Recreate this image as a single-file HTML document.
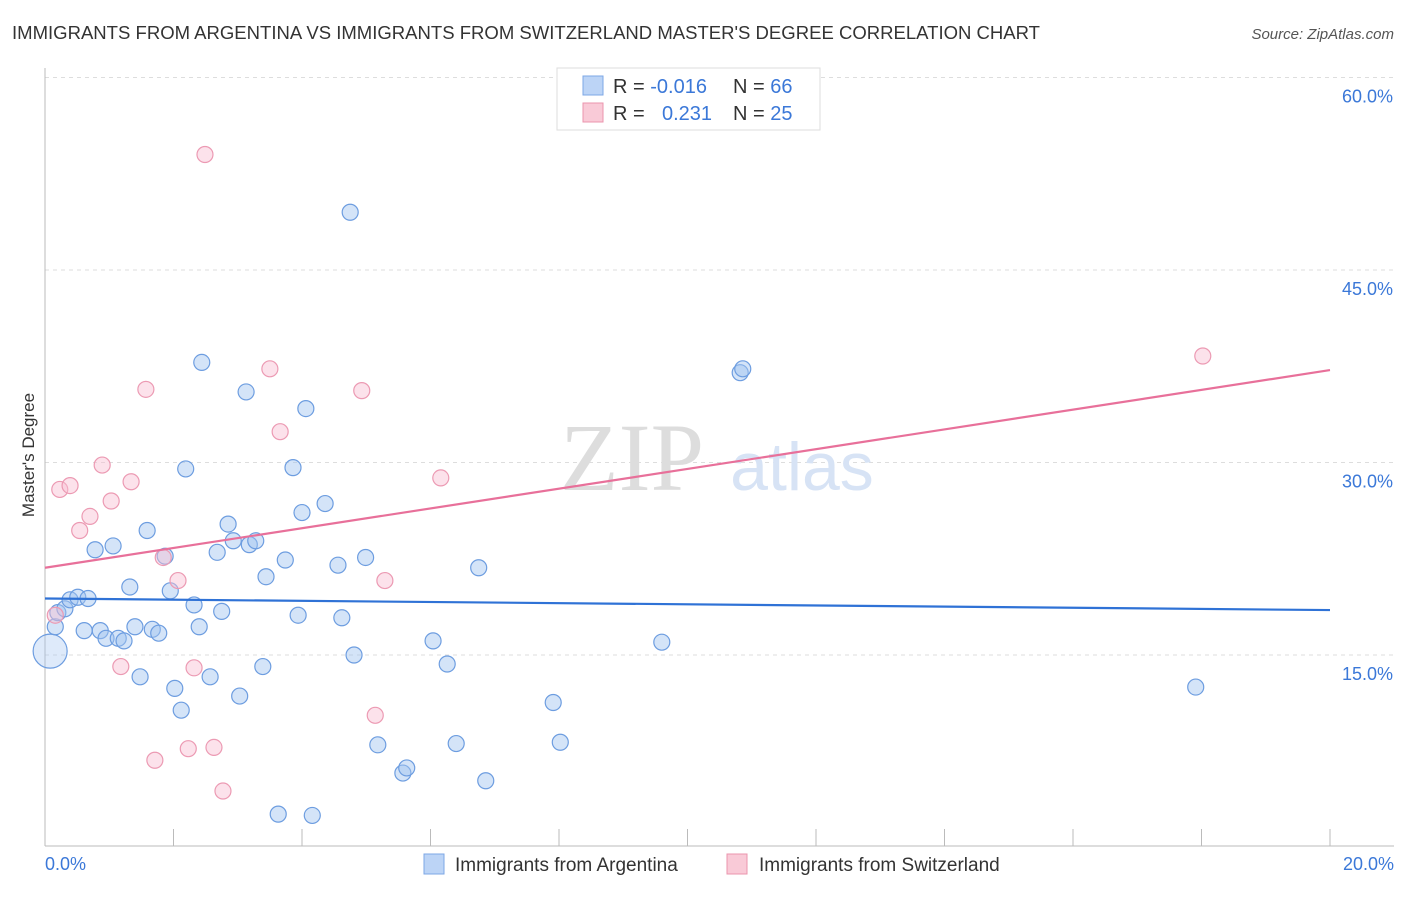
<!DOCTYPE html>
<html><head><meta charset="utf-8"><style>
body{margin:0;background:#fff;font-family:"Liberation Sans",sans-serif;}
svg text{font-family:"Liberation Sans",sans-serif;}
</style></head><body>
<svg id="chart" width="1406" height="892" xmlns="http://www.w3.org/2000/svg">
<text x="12" y="39" font-size="18" fill="#333" textLength="1028" lengthAdjust="spacingAndGlyphs">IMMIGRANTS FROM ARGENTINA VS IMMIGRANTS FROM SWITZERLAND MASTER'S DEGREE CORRELATION CHART</text>
<text x="1394" y="39" font-size="15" fill="#555" font-style="italic" text-anchor="end">Source: ZipAtlas.com</text>
<g id="grid"></g>
<text x="632" y="490" font-size="96" fill="#ddd" text-anchor="middle" style="font-family:'Liberation Serif',serif">ZIP</text>
<text x="802" y="490" font-size="68" fill="#d7e3f5" text-anchor="middle">atlas</text>
<g id="points"></g>
<g id="trends"></g>
<text x="34" y="455" font-size="17" fill="#333" transform="rotate(-90 34 455)" text-anchor="middle">Master's Degree</text>
<text x="45" y="870" font-size="18" fill="#3b78d8">0.0%</text>
<text x="1394" y="870" font-size="18" fill="#3b78d8" text-anchor="end">20.0%</text>
<g>
<rect x="557" y="68" width="263" height="62" fill="#fff" stroke="#ddd"/>
<rect x="583" y="76" width="20" height="19" fill="#bcd4f6" stroke="#7da7e6"/>
<rect x="583" y="103" width="20" height="19" fill="#f9cad7" stroke="#eb94ad"/>
<text x="613" y="93" font-size="20" fill="#333">R = <tspan fill="#3b78d8">-0.016</tspan><tspan x="733">N = </tspan><tspan fill="#3b78d8">66</tspan></text>
<text x="613" y="120" font-size="20" fill="#333">R = <tspan x="662" fill="#3b78d8">0.231</tspan><tspan x="733">N = </tspan><tspan fill="#3b78d8">25</tspan></text>
</g>
<g>
<rect x="424" y="854" width="20" height="20" fill="#bcd4f6" stroke="#7da7e6"/>
<text x="455" y="871" font-size="19" fill="#333">Immigrants from Argentina</text>
<rect x="727" y="854" width="20" height="20" fill="#f9cad7" stroke="#eb94ad"/>
<text x="759" y="871" font-size="19" fill="#333">Immigrants from Switzerland</text>
</g>
</svg>
<script>
const yTicks=[15,30,45,60];
const yTickLabels=["15.0%","30.0%","45.0%","60.0%"];
const xTicks=[0,2,4,6,8,10,12,14,16,18,20];
const blueX=[0.08,0.16,0.2,0.31,0.39,0.51,0.67,0.61,0.78,0.86,0.95,1.06,1.14,1.23,1.32,1.40,1.48,1.59,1.67,1.77,1.87,1.95,2.02,2.12,2.19,2.32,2.40,2.44,2.57,2.68,2.75,2.85,2.93,3.03,3.13,3.18,3.28,3.39,3.44,3.63,3.74,3.86,3.94,4.0,4.06,4.16,4.36,4.56,4.62,4.75,4.81,4.99,5.18,5.57,5.63,6.04,6.26,6.40,6.75,6.86,7.91,8.02,9.60,10.82,10.86,17.91];
const blueY=[15.3,17.2,18.3,18.6,19.3,19.5,19.4,16.9,23.2,16.9,16.3,23.5,16.3,16.1,20.3,17.2,13.3,24.7,17.0,16.7,22.7,20.0,12.4,10.7,29.5,18.9,17.2,37.8,13.3,23.0,18.4,25.2,23.9,11.8,35.5,23.6,23.9,14.1,21.1,2.6,22.4,29.6,18.1,26.1,34.2,2.5,26.8,22.0,17.9,49.5,15.0,22.6,8.0,5.8,6.2,16.1,14.3,8.1,21.8,5.2,11.3,8.2,16.0,37.0,37.3,12.5];
const pinkX=[0.16,0.23,0.39,0.54,0.70,0.89,1.03,1.18,1.34,1.57,1.71,1.84,2.07,2.23,2.32,2.49,2.63,2.77,3.50,3.66,4.93,5.14,5.29,6.16,18.02];
const pinkY=[18.1,27.9,28.2,24.7,25.8,29.8,27.0,14.1,28.5,35.7,6.8,22.6,20.8,7.7,14.0,54.0,7.8,4.4,37.3,32.4,35.6,10.3,20.8,28.8,38.3];
const blueTrend=[19.4,18.5];
const pinkTrend=[21.8,37.2];
const NS="http://www.w3.org/2000/svg";
const X=v=>45+v/20*1285;
const Y=v=>847.5-v/15*192.5;
function mk(tag,attrs,parent){const e=document.createElementNS(NS,tag);for(const k in attrs)e.setAttribute(k,attrs[k]);parent.appendChild(e);return e;}
const grid=document.getElementById('grid');
yTicks.forEach((t,i)=>{
 const l=mk('line',{x1:45,x2:1394,y1:Y(t),y2:Y(t),stroke:'#ddd','stroke-dasharray':'4,4'},grid);
 
 
 const tx=mk('text',{x:1393,y:Y(t)+25,'font-size':18,fill:'#3b78d8','text-anchor':'end'},grid);
 tx.textContent=yTickLabels[i];
 
 
});
const ax=mk('line',{x1:45,x2:45,y1:68,y2:846,stroke:'#bbb'},grid);


const bx=mk('line',{x1:45,x2:1394,y1:846,y2:846,stroke:'#bbb'},grid);


xTicks.forEach(t=>{
 const l=mk('line',{x1:X(t),x2:X(t),y1:829,y2:846,stroke:'#bbb'},grid);
 
 
});
const pts=document.getElementById('points');
blueX.forEach((x,i)=>{
 const c=mk('circle',{cx:X(x),cy:Y(blueY[i]),r:i==0?17:8,fill:i==0?'rgba(160,195,240,0.35)':'rgba(160,195,240,0.45)',stroke:'#6d9de0','stroke-width':1.2},pts);
 
 
});
pinkX.forEach((x,i)=>{
 const c=mk('circle',{cx:X(x),cy:Y(pinkY[i]),r:8,fill:'rgba(248,190,210,0.45)',stroke:'#ec9ab3','stroke-width':1.2},pts);
 
 
});
const tr=document.getElementById('trends');
const bl=mk('line',{x1:X(0),y1:Y(blueTrend[0]),x2:X(20),y2:Y(blueTrend[1]),stroke:'#2f72d6','stroke-width':2.2},tr);


const pl=mk('line',{x1:X(0),y1:Y(pinkTrend[0]),x2:X(20),y2:Y(pinkTrend[1]),stroke:'#e8709a','stroke-width':2.2},tr);


</script>
</body></html>
